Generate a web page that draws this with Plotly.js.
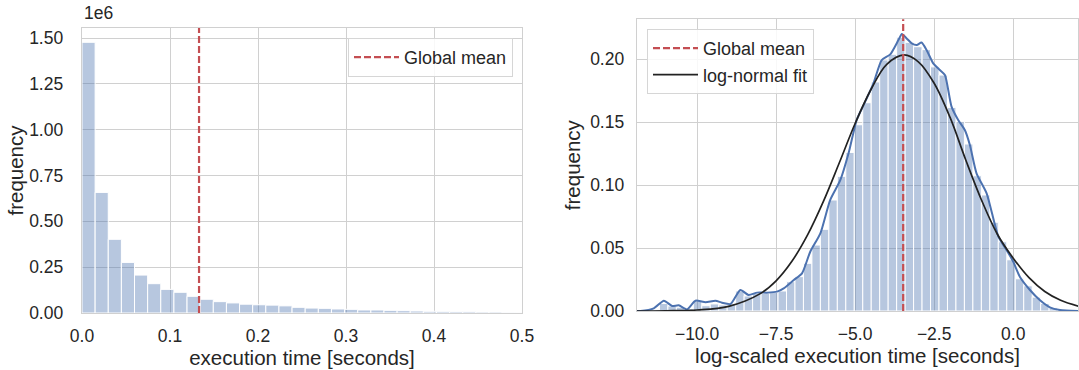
<!DOCTYPE html>
<html>
<head>
<meta charset="utf-8">
<script src="https://cdn.plot.ly/plotly-3.0.1.min.js"></script>
<style>html,body{margin:0;padding:0;background:#fff}#chart{width:1079px;height:370px}</style>
</head>
<body>
<div id="chart"></div>
<script>
// ---------- data ----------
// Left: raw execution time histogram (frequency, in millions)
const leftBinStart = 0.0;
const leftBinWidth = 0.01492;
const leftFreqMillions = [1.477, 0.658, 0.402, 0.276, 0.207, 0.160, 0.129, 0.113, 0.091, 0.075,
  0.062, 0.055, 0.048, 0.045, 0.043, 0.039, 0.031, 0.027, 0.0255, 0.022,
  0.020, 0.0165, 0.0164, 0.0145, 0.0127, 0.011, 0.0092, 0.009, 0.0074, 0.0072,
  0.0056, 0.0054, 0.0037, 0.0035];
const globalMeanLinear = 0.133;

// Right: log-scaled execution time histogram (density)
const rightBinStart = -11.459;
const rightBinWidth = 0.268;
const rightDensity = [0.001, 0.006, 0.004, 0.003, 0.002, 0.0082, 0.0042, 0.0056, 0.0048, 0.0053,
  0.0159, 0.0119, 0.0140, 0.0140, 0.0148, 0.0159, 0.0233, 0.0273, 0.0379, 0.0524,
  0.0649, 0.0882, 0.107, 0.126, 0.148, 0.1655, 0.182, 0.1995, 0.204, 0.2175,
  0.2135, 0.210, 0.2077, 0.194, 0.1875, 0.1618, 0.1504, 0.1327, 0.1075, 0.0922,
  0.0705, 0.055, 0.0407, 0.0256, 0.020, 0.011, 0.006, 0.0025, 0.001, 0.0005];
const globalMeanLog = -3.48;

// KDE curve
const kdeX = [-11.95, -11.79, -11.37, -11.05, -10.79, -10.58, -10.32, -10.05, -9.73, -9.42, -9.21, -8.94,
  -8.63, -8.37, -8.10, -7.79, -7.47, -7.26, -6.94, -6.68, -6.42, -6.10, -5.79, -5.47,
  -5.21, -4.95, -4.68, -4.42, -4.16, -3.89, -3.63, -3.52, -3.37, -3.21, -3.05, -2.90,
  -2.74, -2.53, -2.32, -2.16, -1.95, -1.74, -1.53, -1.37, -1.16, -0.84, -0.47, -0.21,
  0.0, 0.21, 0.53, 0.84, 1.16, 1.48, 2.06];
const kdeY = [0.0, 0.0, 0.0021, 0.0082, 0.0040, 0.0045, 0.0013, 0.0082, 0.0069, 0.0082, 0.0066, 0.0056,
  0.0167, 0.0127, 0.0146, 0.0146, 0.0154, 0.0180, 0.0246, 0.0299, 0.0471, 0.0617, 0.0882, 0.104,
  0.1252, 0.1518, 0.1664, 0.1809, 0.1994, 0.2039, 0.2153, 0.2201, 0.2166, 0.2127, 0.2114, 0.2133,
  0.2074, 0.1968, 0.1915, 0.1875, 0.1624, 0.1518, 0.1438, 0.1319, 0.1094, 0.0935, 0.0591, 0.0485,
  0.0392, 0.0273, 0.0167, 0.0087, 0.0029, 0.0008, 0.0];

// log-normal fit curve
const fitX = [-11.95, -11.0, -10.0, -9.0, -8.0, -7.5, -7.0, -6.5, -6.0, -5.5, -5.0, -4.5, -4.0, -3.45,
  -3.0, -2.5, -2.0, -1.5, -1.0, -0.5, 0.0, 0.5, 1.0, 1.5, 2.06];
const fitY = [0.0, 0.0002, 0.0008, 0.0037, 0.0138, 0.024, 0.0395, 0.0607, 0.0873, 0.1178, 0.149, 0.176, 0.196, 0.2035,
  0.198, 0.181, 0.154, 0.120, 0.088, 0.061, 0.042, 0.0265, 0.0155, 0.0085, 0.0038];

// tick labels
const leftYTicks = [0, 0.25, 0.5, 0.75, 1.0, 1.25, 1.5];
const leftXTicks = [0, 0.1, 0.2, 0.3, 0.4, 0.5];
const rightYTicks = [0, 0.05, 0.10, 0.15, 0.20];
const rightXTicks = [-10, -7.5, -5, -2.5, 0];

// ---------- chart ----------
const leftCenters = leftFreqMillions.map((_, i) => leftBinStart + leftBinWidth * (i + 0.5));
const rightCenters = rightDensity.map((_, i) => rightBinStart + rightBinWidth * (i + 0.5));

const FONT = 'Liberation Sans, Arial, sans-serif';
const TXT = '#262626';
const GRID = '#d0d0d0';
const BAR = 'rgba(76,114,176,0.4)';
const RED = '#c44e52';
const BLUE = '#4c72b0';
const TICK = 17.5, TITLE = 20.5, LEG = 18;

const traces = [
  {type: 'bar', x: leftCenters, y: leftFreqMillions, width: leftBinWidth, xaxis: 'x', yaxis: 'y',
   marker: {color: BAR, line: {color: '#ffffff', width: 1}}, showlegend: false, hoverinfo: 'skip'},
  {type: 'bar', x: rightCenters, y: rightDensity, width: rightBinWidth, xaxis: 'x2', yaxis: 'y2',
   marker: {color: BAR, line: {color: '#ffffff', width: 1}}, showlegend: false, hoverinfo: 'skip'},
  {type: 'scatter', mode: 'lines', x: kdeX, y: kdeY, xaxis: 'x2', yaxis: 'y2',
   line: {color: BLUE, width: 2, shape: 'spline', smoothing: 0.6}, showlegend: false},
  {type: 'scatter', mode: 'lines', x: fitX, y: fitY, xaxis: 'x2', yaxis: 'y2', name: 'log-normal fit',
   line: {color: '#222222', width: 1.7, shape: 'spline', smoothing: 1}, legend: 'legend2', legendrank: 2}
];

const shapes = [
  {type: 'line', xref: 'x', yref: 'y domain', x0: globalMeanLinear, x1: globalMeanLinear, y0: 0, y1: 1,
   line: {color: RED, width: 2.2, dash: '7px,3px'}, showlegend: true, name: 'Global mean', legend: 'legend'},
  {type: 'line', xref: 'x2', yref: 'y2 domain', x0: globalMeanLog, x1: globalMeanLog, y0: 0, y1: 1,
   line: {color: RED, width: 2.2, dash: '7px,3px'}, showlegend: true, name: 'Global mean', legend: 'legend2', legendrank: 1}
];

const W = 1079, H = 370;
function axBase(standoff) {
  return {
    showgrid: true, gridcolor: GRID, gridwidth: 1,
    showline: true, linecolor: GRID, linewidth: 1.3, mirror: true,
    zeroline: false, ticks: '', ticklabelstandoff: standoff,
    tickfont: {family: FONT, size: TICK, color: TXT},
  };
}
const titleFont = {family: FONT, size: TITLE, color: TXT};

const layout = {
  width: W, height: H,
  margin: {l: 0, r: 0, t: 0, b: 0},
  paper_bgcolor: '#ffffff', plot_bgcolor: '#ffffff',
  font: {family: FONT, color: TXT},
  barmode: 'overlay',
  xaxis: Object.assign(axBase(7), {domain: [82 / W, 522 / W], anchor: 'y', range: [0, 0.5],
    tickvals: leftXTicks, tickformat: '.1f',
    title: {text: 'execution time [seconds]', font: titleFont, standoff: 0}}),
  yaxis: Object.assign(axBase(14), {domain: [1 - 313 / H, 1 - 28 / H], anchor: 'x', range: [0, 1.555],
    tickvals: leftYTicks, tickformat: '.2f',
    title: {text: 'frequency', font: titleFont, standoff: 0}}),
  xaxis2: Object.assign(axBase(7), {domain: [637 / W, 1078 / W], anchor: 'y2', range: [-11.9, 2.05],
    tickvals: rightXTicks, tickformat: '.1f',
    title: {text: 'log-scaled execution time [seconds]', font: titleFont, standoff: 0}}),
  yaxis2: Object.assign(axBase(8), {domain: [1 - 311 / H, 1 - 19.3 / H], anchor: 'x2', range: [0, 0.2318],
    tickvals: rightYTicks, tickformat: '.2f',
    title: {text: 'frequency', font: titleFont, standoff: 4}}),
  legend: {x: 513 / W, y: 1 - 38 / H, xanchor: 'right', yanchor: 'top', itemwidth: 45,
    bgcolor: 'rgba(255,255,255,0.85)', bordercolor: '#d6d6d6', borderwidth: 1,
    font: {family: FONT, size: LEG, color: TXT}},
  legend2: {x: 647 / W, y: 1 - 29 / H, xanchor: 'left', yanchor: 'top', itemwidth: 45,
    bgcolor: 'rgba(255,255,255,0.85)', bordercolor: '#d6d6d6', borderwidth: 1,
    font: {family: FONT, size: LEG, color: TXT}, traceorder: 'normal'},
  shapes: shapes,
  annotations: [
    {text: '1e6', xref: 'paper', yref: 'paper', x: 82 / W, y: 1 - 25 / H, xanchor: 'left', yanchor: 'bottom',
     showarrow: false, font: {family: FONT, size: TICK, color: TXT}}
  ]
};

Plotly.newPlot('chart', traces, layout, {displayModeBar: false, staticPlot: true});
</script>
</body>
</html>
